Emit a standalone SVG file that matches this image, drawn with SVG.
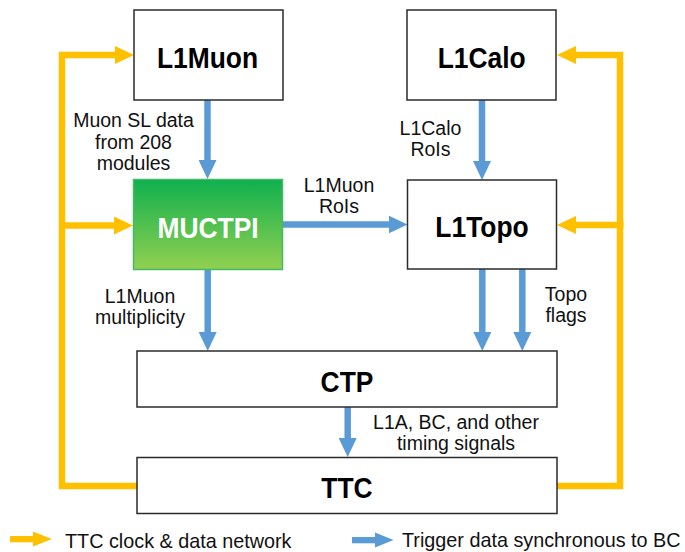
<svg xmlns="http://www.w3.org/2000/svg" width="685" height="552" viewBox="0 0 685 552">
<style>
.box{fill:#ffffff;stroke:#2b2b2b;stroke-width:1.5}
.nl{font-family:"Liberation Sans",Arial,sans-serif;font-weight:bold;font-size:30px;fill:#000;text-anchor:middle}
.lb{font-family:"Liberation Sans",Arial,sans-serif;font-size:19.5px;fill:#111;text-anchor:middle}
.lg{font-family:"Liberation Sans",Arial,sans-serif;font-size:19.8px;fill:#111}
.bl{stroke:#5b9bd5;stroke-width:6.5;fill:none}
.yl{stroke:#ffc000;stroke-width:6.5;fill:none}
</style>
<defs>
<linearGradient id="gm" x1="0" y1="0" x2="0" y2="1">
<stop offset="0" stop-color="#0fb04f"/>
<stop offset="1" stop-color="#92d050"/>
</linearGradient>
<marker id="ab" markerUnits="userSpaceOnUse" markerWidth="20" markerHeight="18" refX="1" refY="9" orient="auto" viewBox="0 0 20 18"><path d="M0,0 L19,9 L0,18 z" fill="#5b9bd5"/></marker>
<marker id="ay" markerUnits="userSpaceOnUse" markerWidth="20" markerHeight="18" refX="1" refY="9" orient="auto" viewBox="0 0 20 18"><path d="M0,0 L19,9 L0,18 z" fill="#ffc000"/></marker>
</defs>

<g id="connectors">
<line class="bl" x1="207.5" y1="100" x2="207.5" y2="161" marker-end="url(#ab)"/>
<line class="bl" x1="482" y1="100" x2="482" y2="162" marker-end="url(#ab)"/>
<line class="bl" x1="283" y1="224.5" x2="389.5" y2="224.5" marker-end="url(#ab)"/>
<line class="bl" x1="207.7" y1="269" x2="207.7" y2="333" marker-end="url(#ab)"/>
<line class="bl" x1="482.3" y1="269" x2="482.3" y2="333" marker-end="url(#ab)"/>
<line class="bl" x1="522.3" y1="269" x2="522.3" y2="333" marker-end="url(#ab)"/>
<line class="bl" x1="347.7" y1="407" x2="347.7" y2="439" marker-end="url(#ab)"/>
<polyline class="yl" points="137,486 62,486 62,55 116,55" marker-end="url(#ay)"/>
<line class="yl" x1="62" y1="225.5" x2="115" y2="225.5" marker-end="url(#ay)"/>
<polyline class="yl" points="557,486 620,486 620,55 575,55" marker-end="url(#ay)"/>
<line class="yl" x1="623.5" y1="225" x2="575" y2="225" marker-end="url(#ay)"/>
</g>

<g id="L1Muon">
<rect class="box" x="134" y="10" width="149" height="90"/>
<text class="nl" transform="translate(207.5,68) scale(0.88,1)">L1Muon</text>
</g>
<g id="L1Calo">
<rect class="box" x="407" y="10" width="149" height="90"/>
<text class="nl" transform="translate(481.7,68) scale(0.88,1)">L1Calo</text>
</g>
<g id="MUCTPI">
<rect x="133.5" y="179.5" width="149" height="90" fill="url(#gm)" stroke="#43bb66" stroke-width="1.5"/>
<text class="nl" style="fill:#fff" transform="translate(208,238) scale(0.88,1)">MUCTPI</text>
</g>
<g id="L1Topo">
<rect class="box" x="407.5" y="180" width="149" height="89"/>
<text class="nl" transform="translate(482,237) scale(0.88,1)">L1Topo</text>
</g>
<g id="CTP">
<rect class="box" x="137" y="351" width="420" height="56"/>
<text class="nl" transform="translate(347,391.5) scale(0.88,1)">CTP</text>
</g>
<g id="TTC">
<rect class="box" x="137" y="457.5" width="420" height="56"/>
<text class="nl" transform="translate(347,498) scale(0.88,1)">TTC</text>
</g>

<g id="labels">
<text class="lb" x="133.5" y="127">Muon SL data</text>
<text class="lb" x="133.5" y="148.5">from 208</text>
<text class="lb" x="133.5" y="170">modules</text>
<text class="lb" x="430.5" y="135">L1Calo</text>
<text class="lb" x="430.5" y="156">RoIs</text>
<text class="lb" x="339" y="192">L1Muon</text>
<text class="lb" x="339" y="213">RoIs</text>
<text class="lb" x="140" y="303">L1Muon</text>
<text class="lb" x="140" y="324">multiplicity</text>
<text class="lb" x="566" y="301">Topo</text>
<text class="lb" x="566" y="322">flags</text>
<text class="lb" x="456" y="428.5">L1A, BC, and other</text>
<text class="lb" x="456" y="449.5">timing signals</text>
</g>

<g id="legend">
<rect x="10" y="536" width="24" height="6.3" fill="#ffc000"/>
<polygon points="33,531.5 52,539 33,546.5" fill="#ffc000"/>
<text class="lg" x="65" y="548">TTC clock &amp; data network</text>
<rect x="352" y="537" width="24" height="6.3" fill="#5b9bd5"/>
<polygon points="375,532.5 393.5,540 375,547.5" fill="#5b9bd5"/>
<text class="lg" x="402" y="547">Trigger data synchronous to BC</text>
</g>
</svg>
